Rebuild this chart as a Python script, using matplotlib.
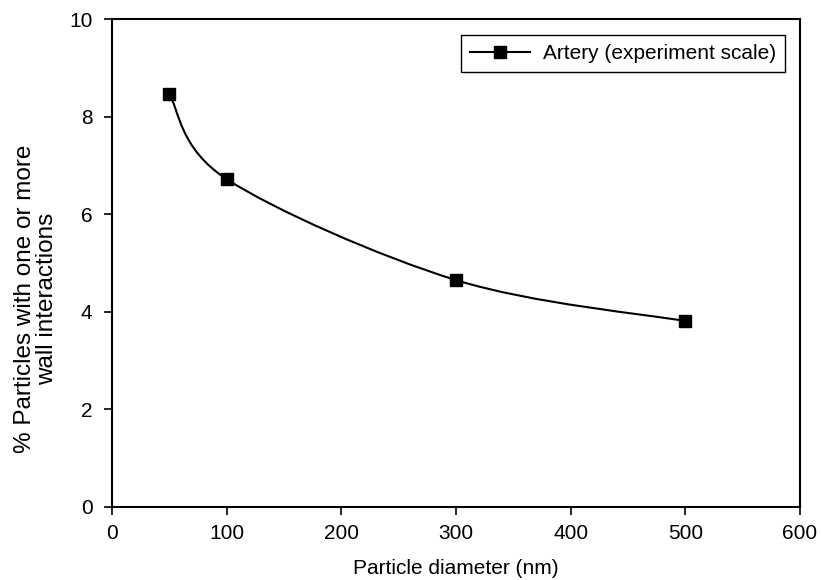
import matplotlib
matplotlib.use("Agg")
import matplotlib.pyplot as plt
from matplotlib.path import Path
from matplotlib.patches import PathPatch
from matplotlib.lines import Line2D
import numpy as np

plt.rcParams['font.family'] = ['Liberation Sans', 'DejaVu Sans']

# values
diameter = [50, 100, 300, 500]
pct_wall = [8.46, 6.72, 4.65, 3.81]
series_name = "Artery (experiment scale)"
x_ticks = [0, 100, 200, 300, 400, 500, 600]
y_ticks = [0, 2, 4, 6, 8, 10]


def smooth_path(xs, ys):
    # Excel-like smoothed line: cubic Bezier segments through the points
    p = np.column_stack([xs, ys]).astype(float)
    n = len(p)
    verts = [p[0]]
    codes = [Path.MOVETO]
    for i in range(n - 1):
        prev = p[i - 1] if i > 0 else p[i]
        nxt = p[i + 2] if i + 2 < n else p[i + 1]
        c1 = p[i] + (p[i + 1] - prev) / 6.0
        c2 = p[i + 1] - (nxt - p[i]) / 6.0
        verts += [c1, c2, p[i + 1]]
        codes += [Path.CURVE4] * 3
    return Path(verts, codes)


fig = plt.figure(figsize=(8.21, 5.80), dpi=100)
ax = fig.add_axes([0.1364, 0.126, 0.838, 0.841])

ax.add_patch(PathPatch(smooth_path(diameter, pct_wall), facecolor='none',
                       edgecolor='black', lw=1.5))
ax.plot(diameter, pct_wall, 's', color='black', ms=9, ls='none')

ax.set_xlim(0, 600)
ax.set_ylim(0, 10)
ax.set_xticks(x_ticks)
ax.set_yticks(y_ticks)
ax.tick_params(axis='both', direction='out', length=6, width=1.2, labelsize=15)
ax.tick_params(axis='x', pad=6)
ax.tick_params(axis='y', pad=8)
for s in ax.spines.values():
    s.set_linewidth(1.5)

ax.set_xlabel("Particle diameter (nm)", fontsize=15, labelpad=12)
ax.set_ylabel("% Particles with one or more\nwall interactions", fontsize=17.5,
              linespacing=1.0)
ax.yaxis.set_label_coords(-0.079, 0.426)

handle = Line2D([], [], color='black', lw=1.5, marker='s', ms=9)
leg = ax.legend([handle], [series_name], loc='upper right',
                bbox_to_anchor=(0.978, 0.967), borderaxespad=0,
                fancybox=False, framealpha=1, edgecolor='black',
                fontsize=15, handlelength=2.9, handletextpad=0.6,
                borderpad=0.42)
leg.get_frame().set_linewidth(1.0)

fig.savefig("out.png", dpi=100)
